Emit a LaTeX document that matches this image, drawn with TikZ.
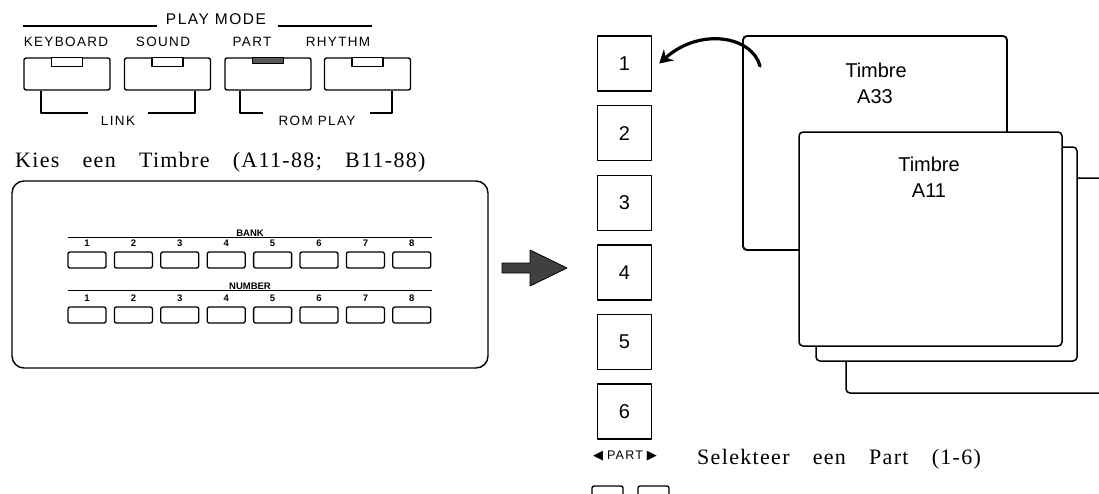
\documentclass[tikz,border=0pt]{standalone}
\usepackage{fontspec}
\setmainfont{Liberation Serif}
\setsansfont{Liberation Sans}
\newfontfamily\serifls[LetterSpace=6,WordSpace=3.4]{Liberation Serif}
\newfontfamily\sansls[LetterSpace=10]{Liberation Sans}
\newfontfamily\symf{DejaVu Sans}
\usetikzlibrary{arrows.meta}
\begin{document}
\begin{tikzpicture}[x=1pt,y=-1pt,line join=round,
 ln/.style={line width=1.4pt},
 pmbtn/.style={draw,line width=1.4pt,rounded corners=2pt,minimum width=86pt,minimum height=32pt,inner sep=0pt},
 pmlbl/.style={inner sep=0pt,font=\sansls\fontsize{13.5}{14}\selectfont},
 smbtn/.style={draw,line width=1.3pt,rounded corners=2pt,minimum width=38pt,minimum height=16pt,inner sep=0pt},
 tinylbl/.style={inner sep=0pt,font=\sffamily\bfseries\fontsize{9.5}{9.5}\selectfont},
 numbox/.style={draw,line width=1.4pt,minimum width=54pt,minimum height=55pt,inner sep=0pt,font=\sffamily\fontsize{20}{20}\selectfont},
 sheet/.style={draw,fill=white,line width=1.5pt,rounded corners=4pt},
 tlbl/.style={inner sep=0pt,font=\sffamily\fontsize{20}{20}\selectfont},
 serif/.style={inner sep=0pt,font=\serifls\fontsize{22}{26}\selectfont},
 partbtn/.style={draw,line width=1.4pt,rounded corners=2pt,minimum width=31pt,minimum height=30pt},
]
\useasboundingbox (0,0) rectangle (1099,493);
\clip (0,0) rectangle (1099,493);

% PLAY MODE header
\node[pmlbl,font=\sansls\fontsize{15.5}{16}\selectfont] (pm) at (216,19) {PLAY MODE};
\coordinate (pmL1) at (23,26); \coordinate (pmL2) at (157,26);
\coordinate (pmR1) at (278,26); \coordinate (pmR2) at (372,26);
\draw[ln] (pmL1) -- (pmL2);
\draw[ln] (pmR1) -- (pmR2);

\node[pmlbl] (lkb) at (66,42) {KEYBOARD};
\node[pmlbl] (lsd) at (163,42) {SOUND};
\node[pmlbl] (lpt) at (252,42) {PART};
\node[pmlbl] (lrh) at (338,42) {RHYTHM};

\node[pmbtn] (kb) at (67,74) {};
\node[pmbtn] (sd) at (167.5,74) {};
\node[pmbtn] (pt) at (268,74) {};
\node[pmbtn] (rh) at (367.5,74) {};

\draw[ln,fill=white] ([xshift=-15.5pt]kb.north) rectangle ++(31,9);
\draw[ln,fill=white] ([xshift=-15.5pt]sd.north) rectangle ++(31,9);
\draw[ln,fill=black!65] ([xshift=-15.5pt]pt.north) rectangle ++(31,6);
\draw[ln,fill=white] ([xshift=-15.5pt]rh.north) rectangle ++(31,9);

% LINK / ROM PLAY brackets
\coordinate (lkA) at (88,113); \coordinate (lkB) at (148,113);
\draw[ln] ([xshift=-26pt]kb.south) |- (lkA);
\draw[ln] (lkB) -| ([xshift=27.5pt]sd.south);
\node[pmlbl] (link) at (118,121) {LINK};
\coordinate (rpA) at (263,113); \coordinate (rpB) at (370,113);
\draw[ln] ([xshift=-28pt]pt.south) |- (rpA);
\draw[ln] (rpB) -| ([xshift=24.5pt]rh.south);
\node[pmlbl] (rom) at (317,121) {ROM\hspace{5pt}PLAY};

% caption
\node[serif,anchor=base west] (kies) at (15,167) {Kies een Timbre (A11-88; B11-88)};

% panel
\node[draw,line width=1.4pt,rounded corners=12pt,minimum width=476pt,minimum height=187pt,inner sep=0pt] (panel) at (250,274.5) {};
\coordinate (bkL) at (68,237); \coordinate (bkR) at (432,237);
\draw[line width=1pt] (bkL) -- (bkR);
\node[tinylbl,anchor=south] (bank) at (250,236.5) {BANK};
\coordinate (nmL) at (68,290); \coordinate (nmR) at (432,290);
\draw[line width=1pt] (nmL) -- (nmR);
\node[tinylbl,anchor=south] (number) at (250,289.5) {NUMBER};
\foreach \i in {1,...,8} {
  \node[smbtn] (bk\i) at ({87+46.4*(\i-1)},260) {};
  \node[tinylbl] (bkn\i) at ([yshift=8pt]bk\i.north) {\i};
  \node[smbtn] (nm\i) at ({87+46.4*(\i-1)},315) {};
  \node[tinylbl] (nmn\i) at ([yshift=8pt]nm\i.north) {\i};
}

% big arrow
\filldraw[fill=black!75,draw=black,line width=0.8pt] (502,263) -- (530,263) -- (530,250) -- (567,268) -- (530,286) -- (530,273) -- (502,273) -- cycle;

% part boxes
\foreach \i in {1,...,6} {
  \node[numbox] (n\i) at (624.5,{63.5+69.6*(\i-1)}) {\i};
}
\node[inner sep=0pt,font=\sansls\fontsize{12.5}{13}\selectfont] (partlbl) at (625,456) {{\symf\fontsize{13}{13}\selectfont ◀}\hspace{4pt}PART\hspace{4pt}{\symf\fontsize{13}{13}\selectfont ▶}};
\node[partbtn] (pl) at (607.5,501) {};
\node[partbtn] (pr) at (653.5,501) {};
\node[serif,anchor=base west] (sel) at (697,464) {Selekteer een Part (1-6)};

% timbre sheets
\draw[sheet,line width=1.9pt] (743,36) rectangle (1007,250);
\draw[sheet] (846,178) rectangle (1130,393);
\draw[sheet] (816,147) rectangle (1077,361);
\draw[sheet] (799,132) rectangle (1062,346);
\node[tlbl] (t33a) at (876,70) {Timbre};
\node[tlbl] (t33b) at (875,97) {A33};
\node[tlbl] (t11a) at (929,164) {Timbre};
\node[tlbl] (t11b) at (929,191) {A11};

% curved arrow
\coordinate (cs) at (760,66);
\draw[line width=3.2pt,line cap=round,-{Stealth[length=13pt,width=15pt]}] (cs) .. controls (752,36) and (700,27) .. ([xshift=7pt]n1.east);
\end{tikzpicture}
\end{document}
